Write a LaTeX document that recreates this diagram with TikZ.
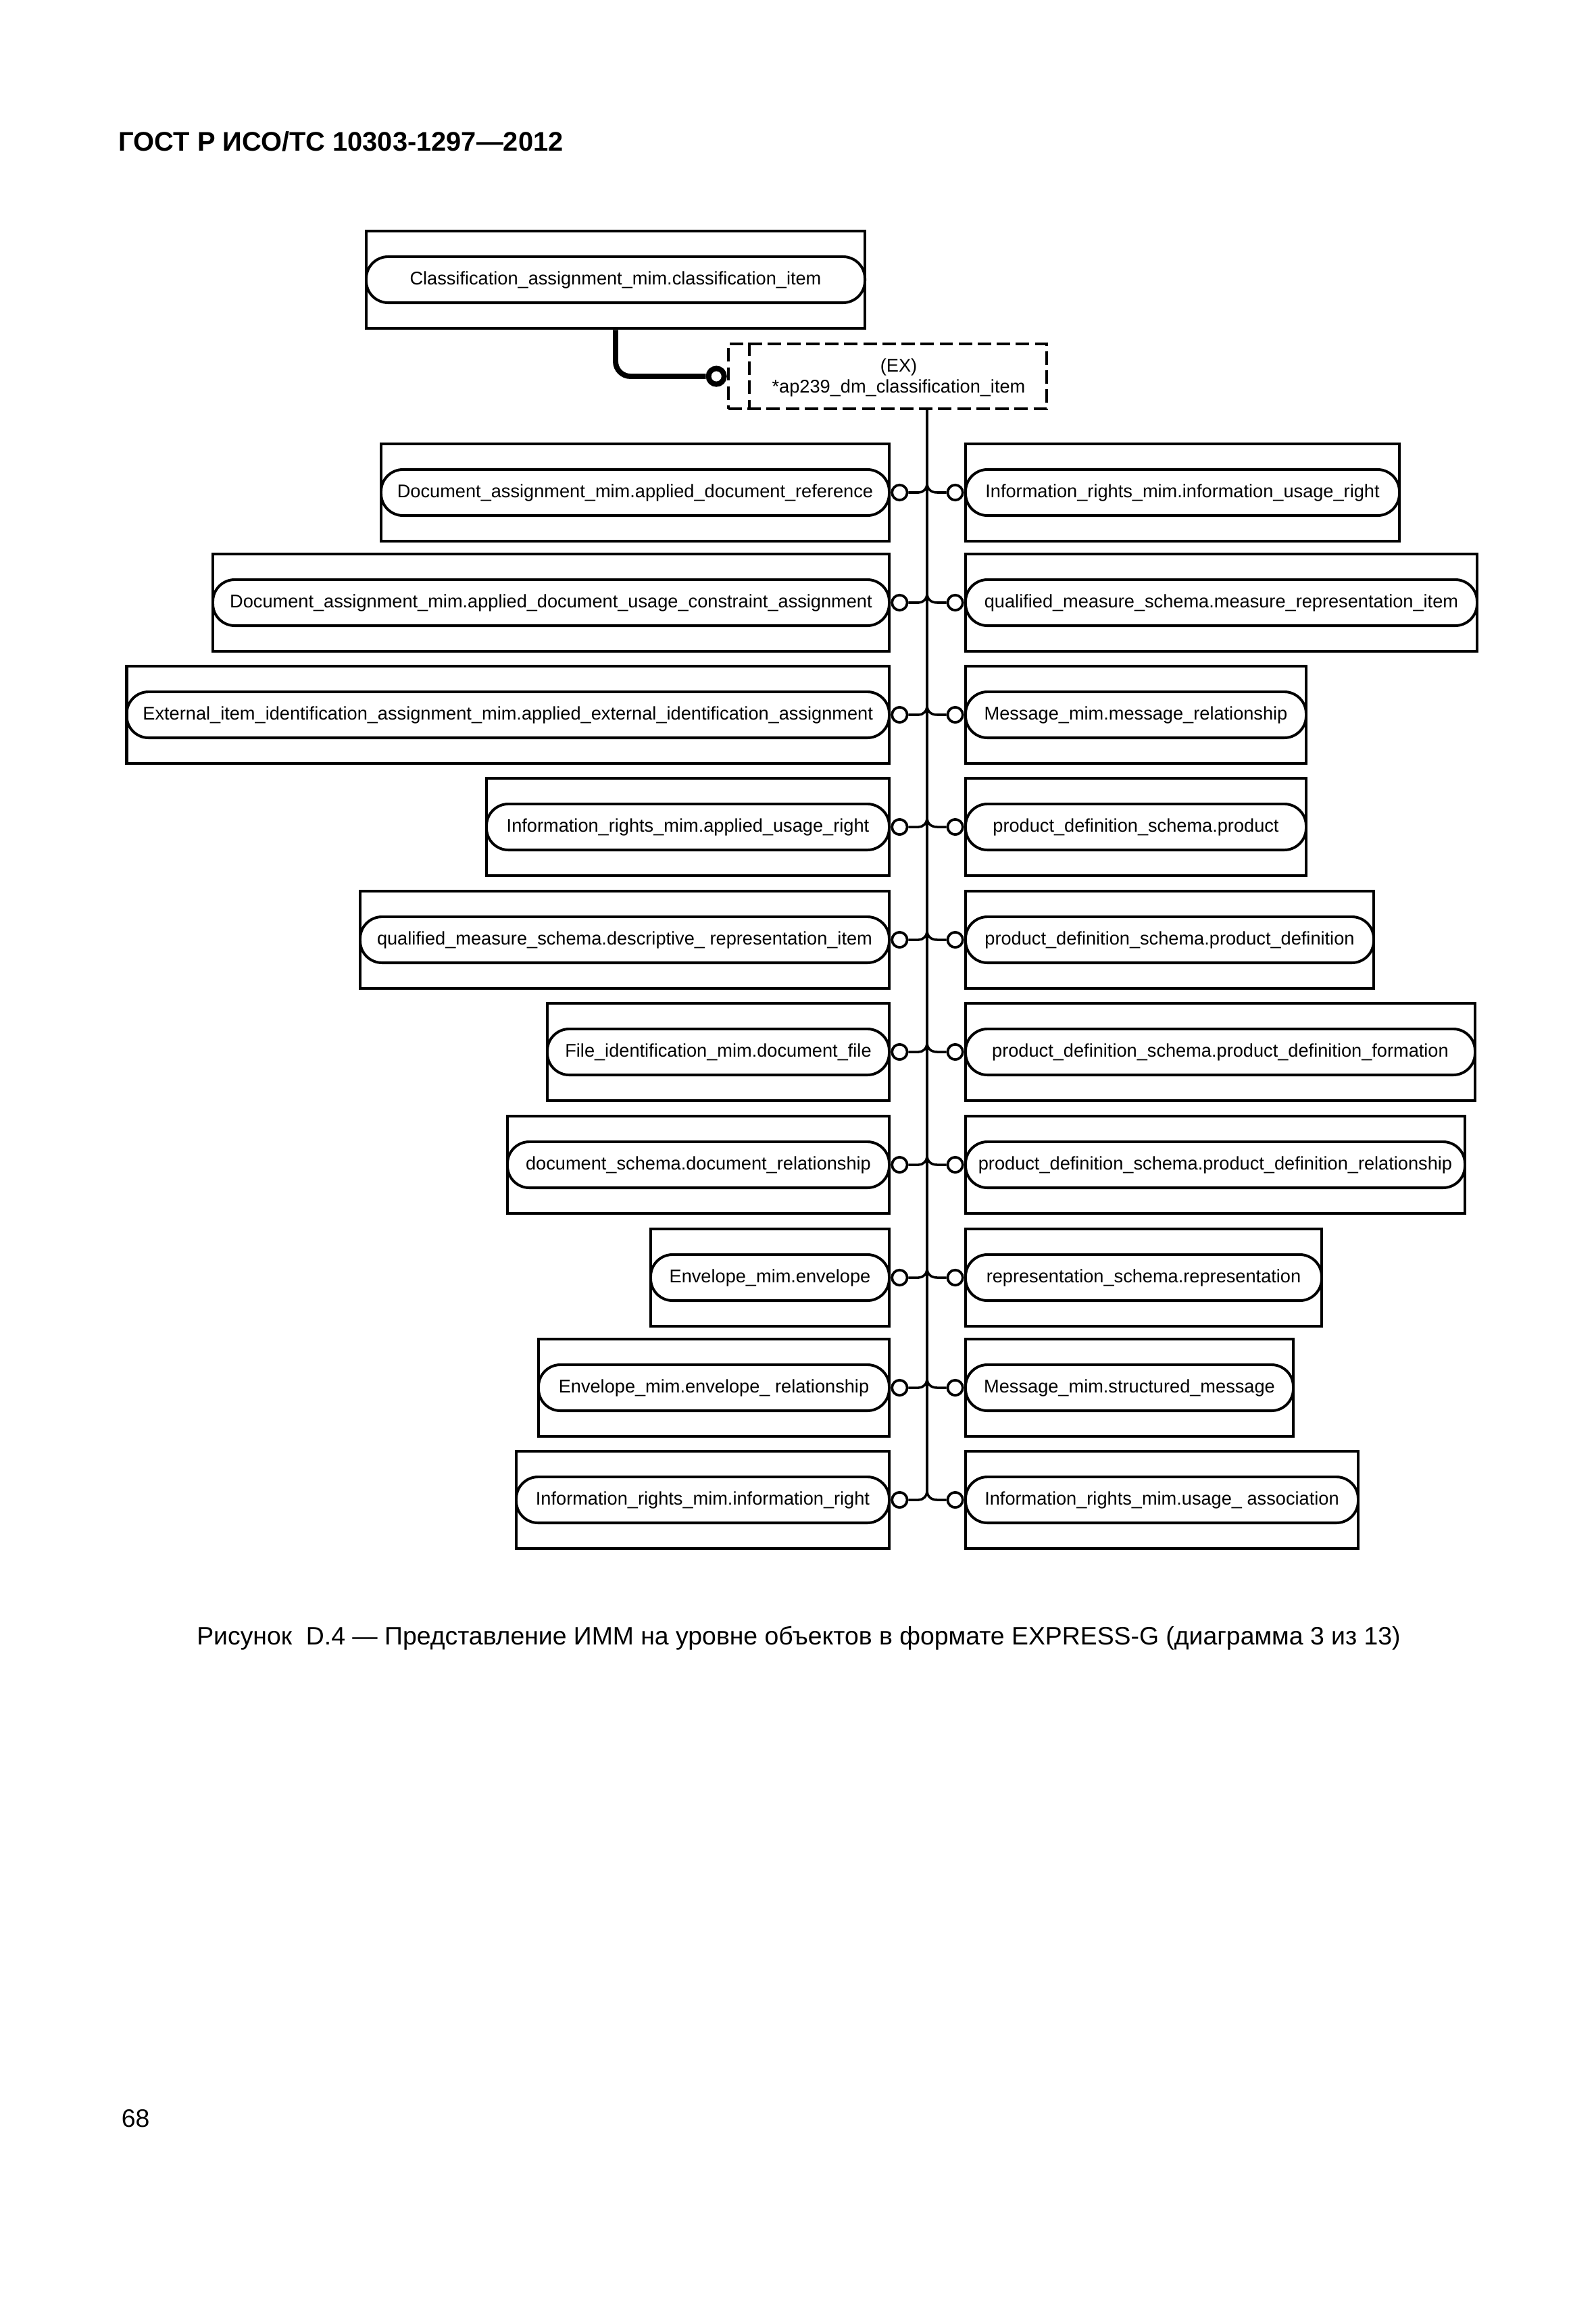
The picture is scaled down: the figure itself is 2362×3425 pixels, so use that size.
\documentclass[tikz,border=0pt]{standalone}
\usepackage{fontspec}
\setmainfont{Liberation Sans}
\usetikzlibrary{positioning}

\tikzset{
  outerbox/.style={draw, line width=1.1pt, minimum height=34.7pt, inner sep=0pt},
  entity/.style={draw, line width=0.95pt, rounded corners=7.8pt, minimum height=16.4pt,
    inner sep=0pt, font=\fontsize{6.55}{7}\selectfont},
  ring/.style={circle, draw, line width=0.9pt, minimum size=5.4pt, inner sep=0pt},
  link/.style={line width=0.85pt},
  trunk/.style={line width=0.95pt},
  exbox/.style={draw, line width=1.05pt, dash pattern=on 4.8pt off 2pt},
}

\begin{document}
\begin{tikzpicture}[x=0.2409pt, y=-0.2409pt]
\useasboundingbox (0,0) rectangle (2362,3425);

\node[anchor=west, inner sep=0pt, font=\fontsize{9.6}{11}\selectfont\bfseries] (head) at (175,209) {ГОСТ Р ИСО/ТС 10303-1297—2012};

% Выбор
\node[outerbox, minimum width=177.8pt] (top) at (911,414) {};
\node[entity, minimum width=177.8pt] (topent) at (top) {Classification\_assignment\_mim.classification\_item};

\node[exbox, minimum width=113.5pt, minimum height=23.1pt] (ex) at (1313.5,557) {};
\draw[exbox] ([xshift=7.95pt]ex.north west) -- ([xshift=7.95pt]ex.south west);
\node[align=center, inner sep=0pt, font=\fontsize{6.55}{7.4}\selectfont] (exname) at (1330,559) {(EX)\\*ap239\_dm\_classification\_item};
\node[ring, line width=1.9pt, minimum size=5.6pt, anchor=east] (exring) at (ex.west) {};
\draw[line width=1.9pt, rounded corners=5.3pt] (top.south) |- (exring.west);

% Левая колонка
\foreach \lx/\y/\txt [count=\i] in {
    564/729/{Document\_assignment\_mim.applied\_document\_reference},
    315/892/{Document\_assignment\_mim.applied\_document\_usage\_constraint\_assignment},
    187.5/1058/{External\_item\_identification\_assignment\_mim.applied\_external\_identification\_assignment},
    720/1224/{Information\_rights\_mim.applied\_usage\_right},
    533/1391/{qualified\_measure\_schema.descriptive\_ representation\_item},
    810/1557/{File\_identification\_mim.document\_file},
    751/1724/{document\_schema.document\_relationship},
    963/1891/{Envelope\_mim.envelope},
    797/2054/{Envelope\_mim.envelope\_ relationship},
    764/2220/{Information\_rights\_mim.information\_right}}
{
  \node[outerbox, minimum width={(1316-\lx)*0.2409pt}] (L\i) at ({(1316+\lx)/2},\y) {};
  \node[entity, minimum width={(1316-\lx)*0.2409pt}] (Le\i) at (L\i) {\txt};
  \node[ring, anchor=west] (Lc\i) at (L\i.east) {};
  \coordinate (J\i) at (1372,\y-14);
  \draw[link] (Lc\i.east) -- ++(15,0) .. controls (1366,\y) and (1372,\y-5) .. (J\i);
}

% Правая колонка
\foreach \rx/\y/\txt [count=\i] in {
    2071/729/{Information\_rights\_mim.information\_usage\_right},
    2186/892/{qualified\_measure\_schema.measure\_representation\_item},
    1933/1058/{Message\_mim.message\_relationship},
    1933/1224/{product\_definition\_schema.product},
    2033/1391/{product\_definition\_schema.product\_definition},
    2183/1557/{product\_definition\_schema.product\_definition\_formation},
    2168/1724/{product\_definition\_schema.product\_definition\_relationship},
    1956/1891/{representation\_schema.representation},
    1914/2054/{Message\_mim.structured\_message},
    2010/2220/{Information\_rights\_mim.usage\_ association}}
{
  \node[outerbox, minimum width={(\rx-1429)*0.2409pt}] (R\i) at ({(1429+\rx)/2},\y) {};
  \node[entity, minimum width={(\rx-1429)*0.2409pt}] (Re\i) at (R\i) {\txt};
  \node[ring, anchor=east] (Rc\i) at (R\i.west) {};
  \draw[link] (J\i) .. controls (1372,\y-5) and (1378,\y) .. (1387,\y) -- (Rc\i.west);
}

\draw[trunk] (ex.south -| J1) -- (J10);

\node[inner sep=0pt, font=\fontsize{9}{11}\selectfont] (caption) at (1182,2425) {Рисунок\ \ D.4 — Представление ИММ на уровне объектов в формате EXPRESS-G (диаграмма 3 из 13)};
\node[anchor=west, inner sep=0pt, font=\fontsize{9}{11}\selectfont] (page) at (179,3136) {68};
\end{tikzpicture}
\end{document}
